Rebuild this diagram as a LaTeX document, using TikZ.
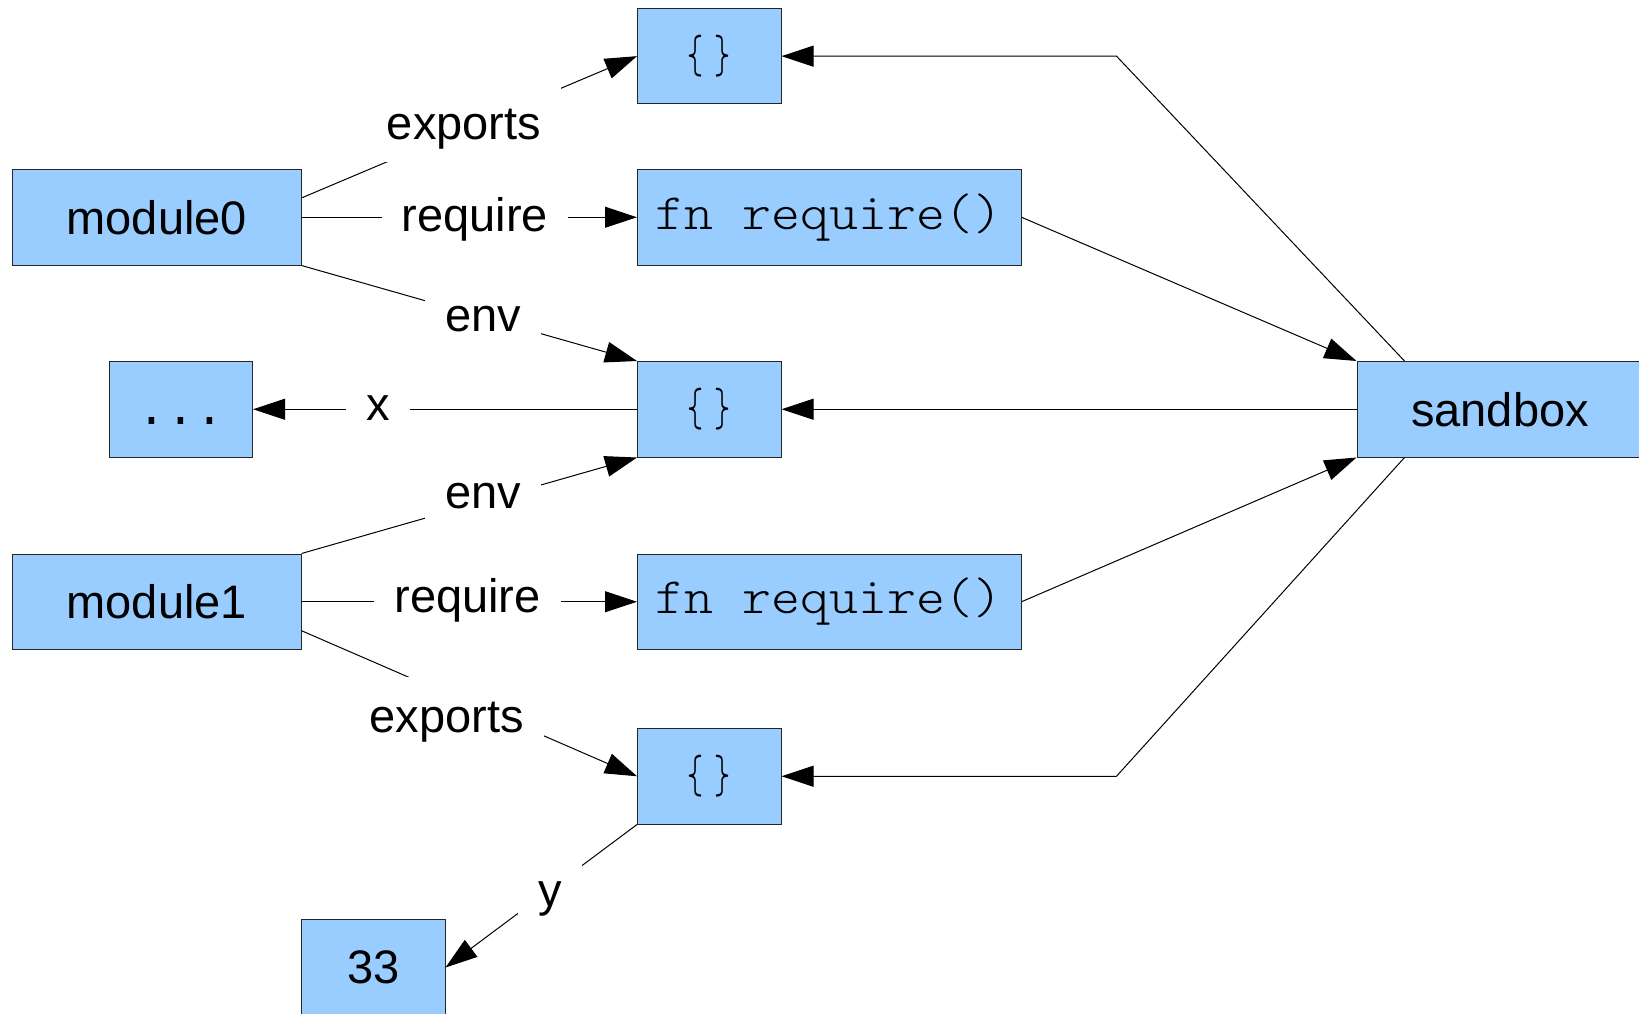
\documentclass[tikz,border=0pt]{standalone}
\usepackage{graphicx}
\usepackage{fontspec}
\setmainfont{Liberation Sans}
\newfontfamily\codefont{Latin Modern Mono Light}
\newfontfamily\dotfont{Liberation Mono}
\usetikzlibrary{arrows.meta,calc}
\definecolor{boxblue}{HTML}{99CCFF}
% typewriter text, slightly widened
\newcommand\codetxt[1]{{\fontsize{25.5}{30}\codefont\scalebox{1.08}[1]{#1}}}
% an empty table: two narrow braces
\newcommand\emptytable{{\fontsize{25.5}{30}\codefont
  \scalebox{0.6}[1.05]{\{}\kern5.5pt\scalebox{0.6}[1.05]{\}}}}
\tikzset{
  box/.style={draw=black!85, line width=0.5pt, fill=boxblue, inner sep=0pt,
    minimum height=47.75pt, font=\fontsize{23.5}{28}\selectfont},
  smallbox/.style={box, minimum width=71.75pt},
  widebox/.style={box, minimum width=144.25pt},
  codebox/.style={box, minimum width=191.75pt},
  lbl/.style={fill=white, inner xsep=10pt, inner ysep=6.5pt, text height=21pt,
    text depth=5pt, anchor=base, font=\fontsize{23.5}{28}\selectfont},
  conn/.style={line width=0.5pt, draw=black},
  arr/.style={conn, -{Triangle[length=16pt,width=10.5pt]}},
}
\begin{document}
\begin{tikzpicture}[x=0.5pt,y=-0.5pt]
\useasboundingbox (0,0) rectangle (1639,1013);

% boxes
\node[smallbox] (e1) at (709.25,56.15) {\emptytable};
\node[widebox] (module0) at (156.75,217.25) {module0};
\node[codebox] (req0) at (829.25,217.25) {\codetxt{fn require()}};
\node[smallbox, text height=15pt, text depth=0pt,
  font=\fontsize{24}{28}\dotfont] (dots) at (180.75,409.25) {...};
\node[smallbox] (envb) at (709.25,409.25) {\emptytable};
\node[box, minimum width=143pt] (sandbox) at (1500,409.25) {sandbox};
\node[widebox] (module1) at (156.75,601.75) {module1};
\node[codebox] (req1) at (829.25,601.75) {\codetxt{fn require()}};
\node[smallbox] (exp1) at (709.25,776.25) {\emptytable};
\node[smallbox] (n33) at (373.25,967.5) {33};

% bend points of the sandbox connectors
\coordinate (sbtop) at ($(sandbox.north west)+(48,0)$);
\coordinate (sbbot) at ($(sandbox.south west)+(48,0)$);
\coordinate (c1) at (1116.5,56.15);
\coordinate (c2) at (1116.5,776.25);

% connectors
\draw[arr] ($(module0.north east)!0.3!(module0.south east)$) -- (e1.west);
\draw[arr] (module0.east) -- (req0.west);
\draw[arr] (module0.south east) -- (envb.north west);
\draw[arr] (envb.west) -- (dots.east);
\draw[arr] (module1.north east) -- (envb.south west);
\draw[arr] (module1.east) -- (req1.west);
\draw[arr] ($(module1.north east)!0.8!(module1.south east)$) -- (exp1.west);
\draw[arr] (exp1.south west) -- (n33.east);
\draw[arr] (sbtop) -- (c1) -- (e1.east);
\draw[arr] (req0.east) -- (sandbox.north west);
\draw[arr] (sandbox.west) -- (envb.east);
\draw[arr] (req1.east) -- (sandbox.south west);
\draw[arr] (sbbot) -- (c2) -- (exp1.east);

% connector labels
\node[lbl] (lexp0) at (464,139) {exports};
\node[lbl] (lreq0) at (475,231) {require};
\node[lbl] (lenv0) at (483,331) {env};
\node[lbl] (lx) at (378,420) {x};
\node[lbl] (lenv1) at (483,508) {env};
\node[lbl] (lreq1) at (467.5,612) {require};
\node[lbl] (lexp1) at (446.6,732) {exports};
\node[lbl] (ly) at (550,906) {y};
\end{tikzpicture}
\end{document}
